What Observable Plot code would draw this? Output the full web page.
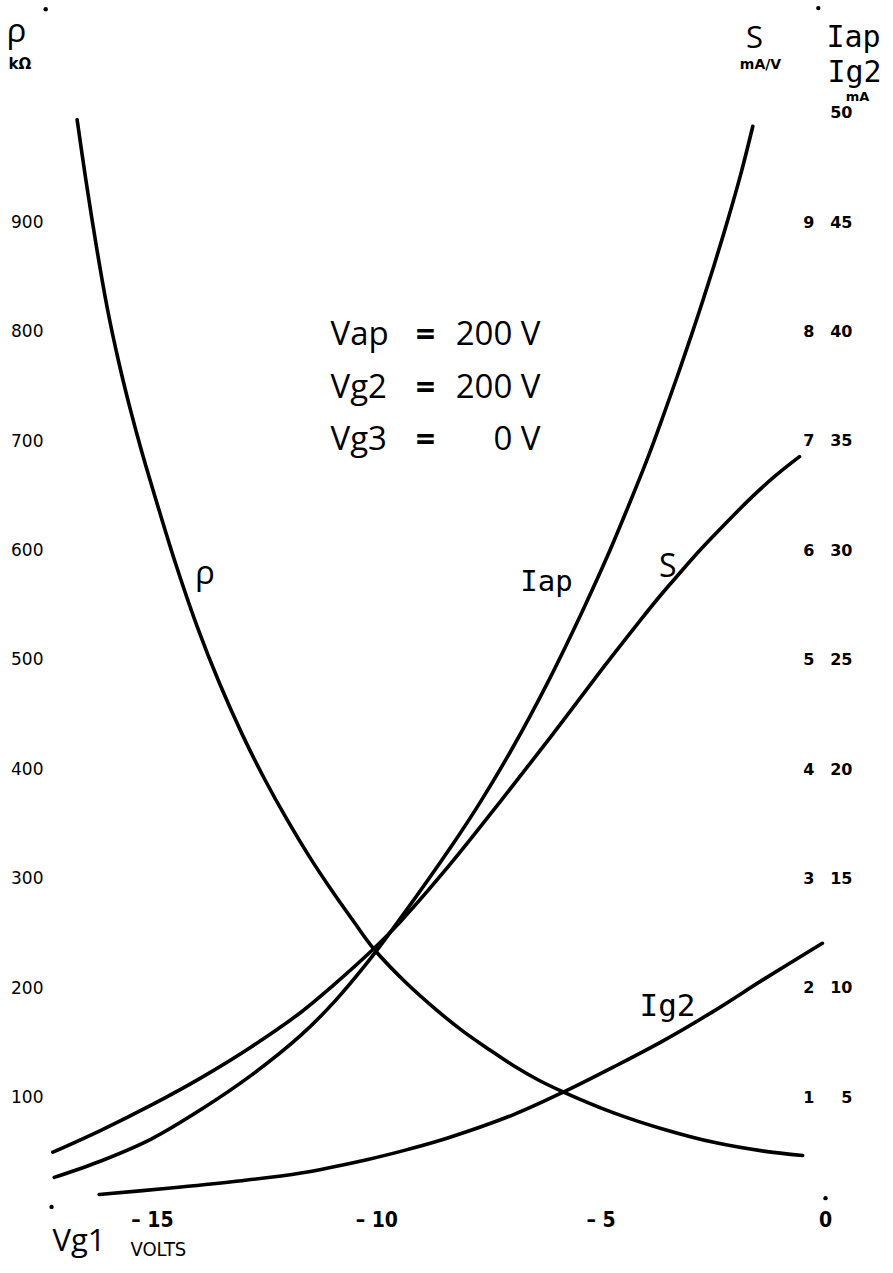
<!DOCTYPE html>
<html>
<head>
<meta charset="utf-8">
<script src="https://cdn.jsdelivr.net/npm/d3@7"></script>
<script src="https://cdn.jsdelivr.net/npm/@observablehq/plot@0.6"></script>
<style>
  html, body { margin: 0; padding: 0; background: #fff; }
  #chart svg { display: block; }
</style>
</head>
<body>
<div id="chart"></div>
<script>
// ---------- tick labels ----------
const vg1Ticks = [-15, -10, -5, 0];
const rhoTicks = [100, 200, 300, 400, 500, 600, 700, 800, 900];
const sTicks   = [1, 2, 3, 4, 5, 6, 7, 8, 9];
const iTicks   = [5, 10, 15, 20, 25, 30, 35, 40, 45, 50];

// ---------- curves (Vg1 in volts) ----------
const rhoVg1  = [-16.68,-16.5,-16.25,-16.0,-15.75,-15.5,-15.25,-15.0,-14.5,-14.0,-13.5,-13.0,-12.5,-12.0,-11.5,-11.0,-10.5,-10.07,-9.4,-8.64,-8.06,-7.5,-6.95,-6.4,-5.84,-4.72,-3.61,-2.49,-1.38,-0.51];
const rhoKohm = [994,943,878,820,772,730,692,657,590,530,478,432,391,354,320,289,260,236,207,179,160,144,129,116,105,86,71,59,51,47];

const sVg1 = [-17.22,-16.15,-15.03,-13.92,-12.81,-11.69,-10.96,-10.07,-9.47,-8.35,-7.24,-6.12,-5.01,-4.19,-3.74,-3.30,-2.85,-2.34,-1.74,-1.16,-0.58];
const sMaV = [0.50,0.70,0.93,1.18,1.46,1.78,2.03,2.36,2.61,3.14,3.71,4.30,4.90,5.33,5.56,5.77,5.98,6.20,6.45,6.67,6.86];

const iapVg1 = [-17.19,-16.15,-15.03,-13.92,-12.81,-11.69,-10.96,-10.20,-9.47,-8.35,-7.68,-6.97,-6.21,-5.46,-4.86,-4.41,-3.96,-3.61,-3.23,-2.85,-2.49,-2.18,-1.89,-1.62];
const iapMa  = [1.35,2.1,3.1,4.45,6.0,7.85,9.35,11.2,13.2,16.45,18.55,21.0,23.9,27.05,29.75,31.95,34.25,36.2,38.4,40.7,43.0,45.1,47.2,49.4];

const ig2Vg1 = [-16.19,-14.65,-13.18,-11.69,-10.2,-9.3,-8.42,-6.95,-5.84,-4.72,-3.61,-2.49,-1.38,-0.07];
const ig2Ma  = [0.57,0.85,1.16,1.55,2.17,2.63,3.15,4.22,5.25,6.4,7.6,8.95,10.4,12.05];

// registration dots of the original sheet
const cornerVg1   = [-17.38, -0.16, -17.25, 0];
const cornerLevel = [1095, 1096, 0, 8];

// operating conditions
const condNames  = ["Vap", "Vg2", "Vg3"];
const condValues = ["200 V", "200 V", "0 V"];

// ---------- build ----------
// common vertical unit: 100 kΩ = 1 mA/V = 5 mA
const K_RHO = 1, K_S = 100, K_I = 20;
const series = (vs, ys, k) => vs.map((v, i) => ({v, y: ys[i] * k}));
const rho = series(rhoVg1, rhoKohm, K_RHO);
const sC  = series(sVg1, sMaV, K_S);
const iap = series(iapVg1, iapMa, K_I);
const ig2 = series(ig2Vg1, ig2Ma, K_I);
const corners = cornerVg1.map((v, i) => ({v, y: cornerLevel[i]}));
const at = (arr, v) => [arr.find(d => d.v === v)];
const conds = condNames.map((n, i) => ({n, val: condValues[i], i}));

const SANS = "'Open Sans', 'DejaVu Sans', sans-serif";
const DEJA = "'DejaVu Sans', sans-serif";
const MONO = "'DejaVu Sans Mono', 'Liberation Mono', monospace";
const NARROW = "'Liberation Sans Narrow', 'DejaVu Sans Condensed', Roboto, sans-serif";
const lineOpts = {x: "v", y: "y", stroke: "#000", strokeWidth: 3.6, curve: "catmull-rom", strokeLinecap: "round"};

const note = (txt, anchor, dx, dy, o) =>
  Plot.text([txt], {text: d => d, frameAnchor: anchor, dx, dy, fill: "#000", ...o});

const plot = Plot.plot({
  width: 893,
  height: 1273,
  marginTop: 112.6,
  marginBottom: 66.6,
  marginLeft: 46,
  marginRight: 80,
  style: {background: "#fff", fontFamily: SANS, color: "#000"},
  x: {domain: [-15, 0], range: [152, 825]},
  y: {domain: [0, 1000]},
  marks: [
    Plot.axisY({ticks: rhoTicks, tickSize: 0, tickPadding: 3, label: null, fontSize: 17, fontFamily: DEJA}),
    Plot.axisY({anchor: "right", ticks: sTicks.map(d => d * K_S), tickFormat: d => d / K_S, tickSize: 0, tickPadding: 0, textAnchor: "end", dx: 1, label: null, fontSize: 16, fontWeight: "bold", fontFamily: DEJA}),
    Plot.axisY({anchor: "right", ticks: iTicks.map(d => d * K_I), tickFormat: d => d / K_I, tickSize: 0, tickPadding: 0, textAnchor: "end", dx: 39, label: null, fontSize: 16, fontWeight: "bold", fontFamily: DEJA}),
    Plot.axisX({ticks: vg1Ticks, tickFormat: d => d === 0 ? "0" : "\u2013 " + Math.abs(d), tickSize: 0, tickPadding: 5, label: null, fontSize: 21, fontWeight: "bold", fontFamily: NARROW}),

    Plot.line(rho, lineOpts),
    Plot.line(sC, lineOpts),
    Plot.line(iap, lineOpts),
    Plot.line(ig2, lineOpts),

    Plot.dot(corners, {x: "v", y: "y", r: 2.2, fill: "#000", stroke: null}),

    // curve labels
    Plot.text(at(rho, -14.5), {x: "v", y: "y", text: () => "ρ", dx: 30, dy: 12, fontSize: 33, fontFamily: SANS}),
    Plot.text(at(iap, -4.86), {x: "v", y: "y", text: () => "Iap", dx: -61, dy: 26, fontSize: 29, fontFamily: MONO}),
    Plot.text(at(sC, -3.74), {x: "v", y: "y", text: () => "S", dx: 10, dy: -32, fontSize: 32, fontFamily: SANS}),
    Plot.text(at(ig2, -3.61), {x: "v", y: "y", text: () => "Ig2", dx: 4, dy: -35, fontSize: 31, fontFamily: MONO}),

    // operating conditions
    ...conds.map(c => Plot.text([c], {text: "n", frameAnchor: "top-left", dx: 284, dy: 208.8 + c.i * 52.5, textAnchor: "start", fontSize: 33, fontFamily: SANS})),
    ...conds.map(c => Plot.text([c], {text: () => "=", frameAnchor: "top-left", dx: 379, dy: 208.8 + c.i * 52.5, textAnchor: "middle", fontSize: 34, fontWeight: "bold", fontFamily: SANS})),
    ...conds.map(c => Plot.text([c], {text: "val", frameAnchor: "top-left", dx: 494, dy: 208.8 + c.i * 52.5, textAnchor: "end", fontSize: 33, fontFamily: SANS})),

    // axis titles / units
    note("ρ", "top-left", -40, -94.8, {textAnchor: "start", fontSize: 33, fontFamily: SANS}),
    note("kΩ", "top-left", -38, -54.4, {textAnchor: "start", fontSize: 15, fontWeight: "bold", fontFamily: DEJA}),
    note("S", "top-right", -59, -87.2, {textAnchor: "middle", fontSize: 31, fontFamily: SANS}),
    note("mA/V", "top-right", -53, -54.4, {textAnchor: "middle", fontSize: 14, fontWeight: "bold", fontFamily: DEJA}),
    note("Iap", "top-right", 13, -87.2, {textAnchor: "start", fontSize: 30, fontFamily: MONO}),
    note("Ig2", "top-right", 14, -52.2, {textAnchor: "start", fontSize: 30, fontFamily: MONO}),
    note("mA", "top-right", 44, -21.8, {textAnchor: "middle", fontSize: 13, fontWeight: "bold", fontFamily: DEJA}),
    note("Vg1", "bottom-left", 6, 44, {textAnchor: "start", fontSize: 31, fontFamily: SANS}),
    note("VOLTS", "bottom-left", 84, 49, {textAnchor: "start", fontSize: 20, fontFamily: NARROW})
  ]
});

document.getElementById("chart").appendChild(plot);
</script>
</body>
</html>
